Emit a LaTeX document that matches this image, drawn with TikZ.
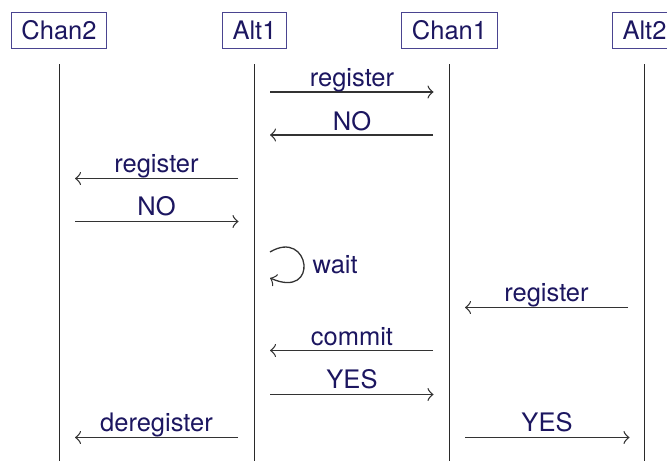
\documentclass[tikz,border=0pt]{standalone}
\usepackage{fontspec}
\setmainfont{TeX Gyre Heros}
\usetikzlibrary{arrows.meta}
\definecolor{txtnavy}{HTML}{1C1660}
\definecolor{boxline}{HTML}{4A4490}
\definecolor{msgline}{HTML}{333333}
\definecolor{lifeline}{HTML}{2A2A2A}
\begin{document}
\begin{tikzpicture}[x=1pt,y=-1pt,
  every node/.style={font=\fontsize{25.5}{30}\selectfont, text=txtnavy},
  actor/.style={draw=boxline, line width=1pt, fill=white, minimum height=36pt,
                inner xsep=10pt, inner ysep=0pt},
  life/.style={draw=lifeline, line width=1pt},
  msg/.style={draw=msgline, line width=1.3pt, -{Classical TikZ Rightarrow[length=6pt,width=13pt]}},
  lbl/.style={anchor=base, inner sep=0pt}]
\useasboundingbox (0,0) rectangle (667,461);
% actors
\node[actor] (chan2) at (59,30) {Chan2};
\node[actor] (alt1) at (254.5,30) {Alt1};
\node[actor] (chan1) at (449.5,30) {Chan1};
\node[actor] (alt2) at (644.5,30) {Alt2};
% lifelines
\foreach \n in {chan2,alt1,chan1,alt2}{
  \draw[life] (\n |- 0,64) -- (\n |- 0,461);
}
% messages
\draw[msg] ([xshift=15.5]alt1 |- 0,92) -- ([xshift=-16]chan1 |- 0,92);
\node[lbl] (t1) at (352,86) {register};
\draw[msg] ([xshift=-16.5]chan1 |- 0,135) -- ([xshift=15.5]alt1 |- 0,135);
\node[lbl] (t2) at (352,130) {NO};
\draw[msg] ([xshift=-16.5]alt1 |- 0,178.5) -- ([xshift=16]chan2 |- 0,178.5);
\node[lbl] (t3) at (156.5,172.5) {register};
\draw[msg] ([xshift=16]chan2 |- 0,221.5) -- ([xshift=-16]alt1 |- 0,221.5);
\node[lbl] (t4) at (156.5,215.5) {NO};
% wait loop
\coordinate (w1) at ([xshift=15.5]alt1 |- 0,252);
\coordinate (w2) at ([xshift=15.5]alt1 |- 0,278);
\draw[msg] (w1) .. controls +(40,-24) and +(50,22) .. (w2);
\node[anchor=base west, inner sep=0pt] (t5) at (312.5,273) {wait};
\draw[msg] ([xshift=-16.5]alt2 |- 0,307.5) -- ([xshift=15.5]chan1 |- 0,307.5);
\node[lbl] (t6) at (546.5,301.5) {register};
\draw[msg] ([xshift=-16.5]chan1 |- 0,350.5) -- ([xshift=15.5]alt1 |- 0,350.5);
\node[lbl] (t7) at (352,345) {commit};
\draw[msg] ([xshift=15.5]alt1 |- 0,394.5) -- ([xshift=-16]chan1 |- 0,394.5);
\node[lbl] (t8) at (352,388.5) {YES};
\draw[msg] ([xshift=-16.5]alt1 |- 0,437.5) -- ([xshift=16]chan2 |- 0,437.5);
\node[lbl] (t9) at (156.5,431.5) {deregister};
\draw[msg] ([xshift=15.5]chan1 |- 0,437.5) -- ([xshift=-15]alt2 |- 0,437.5);
\node[lbl] (t10) at (547,431.5) {YES};
\end{tikzpicture}
\end{document}
